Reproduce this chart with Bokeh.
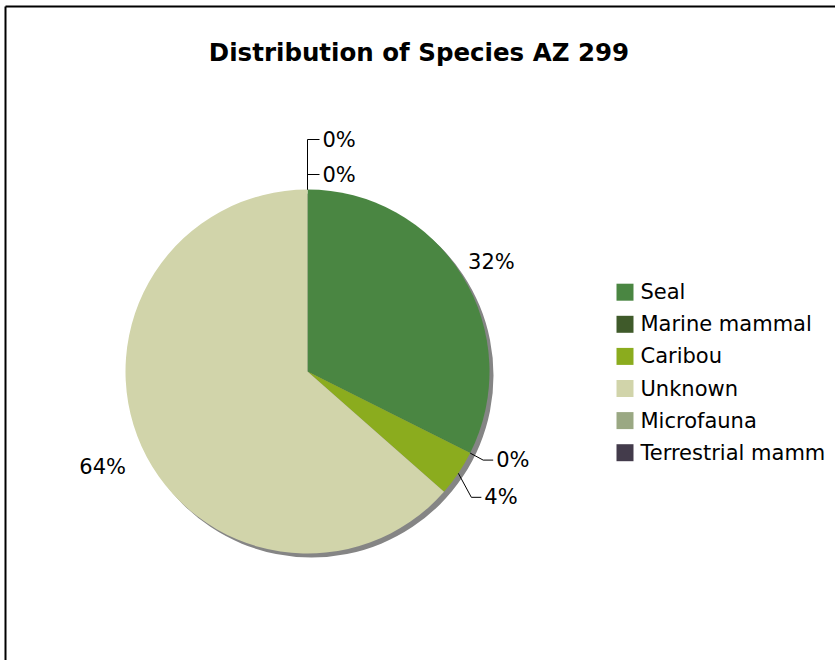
import numpy as np
from bokeh.plotting import figure
from bokeh.models import Range1d, ColumnDataSource
from bokeh.core.properties import value
from bokeh.embed import file_html
from bokeh.resources import INLINE

# ---------------- data ----------------
title = "Distribution of Species AZ 299"
categories = ["Seal", "Marine mammal", "Caribou", "Unknown", "Microfauna", "Terrestrial mamm"]
percent = [32.4, 0.0, 4.1, 63.5, 0.0, 0.0]
labels = ["32%", "0%", "4%", "64%", "0%", "0%"]
colors = ["#4A8642", "#3F5A2A", "#8BAC1E", "#D1D4AA", "#9AA883", "#433B4B"]

# ---------------- layout (pixels) ----------------
W, H = 835, 660
CX, CY, R = 307, 289, 182          # pie centre / radius in plot pixels
SHADOW = 4
# label layout: mode, dx, dy (from slice edge point), horizontal run of leader
label_layout = [
    ("free", 29, 14, 0),
    ("leader", 13, -7, 10),
    ("leader", 13, -24, 10),
    ("free", -39, -21, 0),
    ("leader", 0, 15, 12),
    ("leader", 0, 50, 12),
]
FONT = "DejaVu Sans"

p = figure(width=W, height=H, x_range=Range1d(0, W), y_range=Range1d(0, H),
           output_backend="svg", toolbar_location=None, min_border=0)
p.axis.visible = False
p.grid.visible = False
p.outline_line_color = None
p.background_fill_color = "white"
p.border_fill_color = "white"

# chart border (top & left visible)
p.segment(x0=[5, 5], y0=[0, H - 6], x1=[5, W], y1=[H - 6, H - 6],
          line_color="black", line_width=2)

# title
p.text(x=[418.5], y=[608], text=[title], text_font=value(FONT),
       text_font_style="bold", text_font_size="24.5px", text_align="center",
       text_baseline="alphabetic", text_color="black")

# pie
vals = np.array(percent, dtype=float)
frac = vals / vals.sum()
cum1 = np.cumsum(frac)
cum0 = cum1 - frac
starts = np.pi / 2 - 2 * np.pi * cum0
ends = np.pi / 2 - 2 * np.pi * cum1

p.circle(x=[CX + SHADOW], y=[CY - SHADOW], radius=R, fill_color="#858585",
         line_color=None)
nz = vals > 0
src = ColumnDataSource(dict(start=starts[nz], end=ends[nz],
                            color=[c for c, k in zip(colors, nz) if k],
                            name=[n for n, k in zip(categories, nz) if k]))
p.wedge(x=CX, y=CY, radius=R, start_angle="start", end_angle="end",
        direction="clock", fill_color="color", line_color=None, source=src)

# labels
mids = np.pi / 2 - 2 * np.pi * (cum0 + frac / 2)
ex = CX + R * np.cos(mids)
ey = CY + R * np.sin(mids)
free_x, free_y, free_t = [], [], []
lead_x, lead_y, lead_t = [], [], []
lxs, lys = [], []
for i, (mode, dx, dy, run) in enumerate(label_layout):
    if mode == "free":
        free_x.append(ex[i] + dx)
        free_y.append(ey[i] + dy)
        free_t.append(labels[i])
    else:
        x0 = CX if abs(ex[i] - CX) < 3 else ex[i]
        bx, by = x0 + dx, ey[i] + dy
        lxs.append([x0, bx, bx + run])
        lys.append([ey[i], by, by])
        lead_x.append(bx + run + 3)
        lead_y.append(by)
        lead_t.append(labels[i])

p.multi_line(xs=lxs, ys=lys, line_color="black", line_width=1)
p.text(x=free_x, y=free_y, text=free_t, text_font=value(FONT),
       text_font_size="21px", text_align="center", text_baseline="middle",
       text_color="black")
p.text(x=lead_x, y=lead_y, text=lead_t, text_font=value(FONT),
       text_font_size="21px", text_align="left", text_baseline="middle",
       text_color="black")

# legend
LX, LY0, LDY, SQ = 624.5, 368.3, 32.1, 17
ly = [LY0 - LDY * i for i in range(len(categories))]
p.rect(x=[LX] * len(categories), y=ly, width=SQ, height=SQ,
       fill_color=colors, line_color=None)
p.text(x=[LX + 15.5] * len(categories), y=ly, text=categories,
       text_font=value(FONT), text_font_size="21px", text_align="left",
       text_baseline="middle", text_color="black")

open("out.html", "w").write(file_html(p, INLINE))
